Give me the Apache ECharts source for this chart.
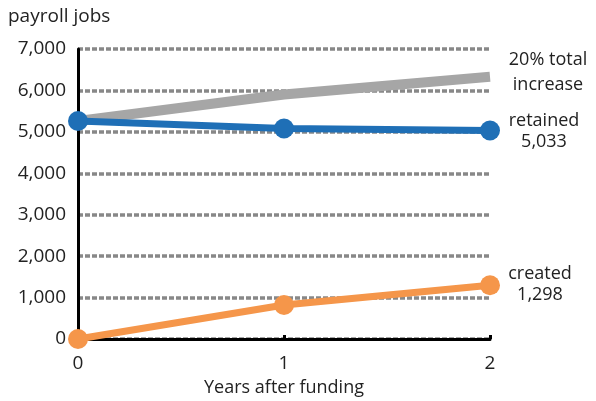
<!DOCTYPE html>
<html><head><meta charset="utf-8">
<script src="https://cdn.jsdelivr.net/npm/echarts@6/dist/echarts.min.js"></script>
<style>html,body{margin:0;padding:0;background:#fff}#c{width:596px;height:401px}</style>
</head><body><div id="c"></div>
<script>
var categories = ['0', '1', '2'];
var totalValues = [5262, 5900, 6331];
var retainedValues = [5262, 5080, 5033];
var createdValues = [0, 820, 1298];
var yTicks = [0, 1000, 2000, 3000, 4000, 5000, 6000, 7000];
var FONT = 'Open Sans';

var chart = echarts.init(document.getElementById('c'));
chart.setOption({
  animation: false,
  title: {text: 'payroll jobs', left: 3, top: 2, textStyle: {fontFamily: FONT, fontSize: 19, fontWeight: 'normal', color: '#222'}},
  grid: {left: 78, right: 106, top: 49, bottom: 62, containLabel: false, outerBoundsMode: 'none'},
  xAxis: {
    type: 'category', data: categories, boundaryGap: false,
    name: 'Years after funding', nameLocation: 'middle', nameGap: 40,
    nameTextStyle: {fontFamily: FONT, fontSize: 18, color: '#222'},
    axisLine: {lineStyle: {color: '#000', width: 3}},
    axisTick: {show: true, inside: true, length: 4, lineStyle: {color: '#000', width: 3}},
    axisLabel: {fontFamily: FONT, fontSize: 19, color: '#222', margin: 15},
    splitLine: {show: false}
  },
  yAxis: {
    type: 'value', min: 0, max: 7000, interval: 1000,
    axisLine: {show: true, lineStyle: {color: '#000', width: 3}},
    axisTick: {show: false},
    axisLabel: {fontFamily: FONT, fontSize: 19, color: '#222', margin: 12,
      formatter: function(v){ return yTicks.indexOf(v) >= 0 ? v.toLocaleString('en-US') : ''; }},
    splitLine: {lineStyle: {color: '#888', width: 3.5, type: [5, 2]}}
  },
  series: [
    {type: 'line', data: totalValues, symbol: 'none', z: 2,
     lineStyle: {color: '#a6a6a6', width: 10},
     endLabel: {show: true, formatter: '20% total\nincrease', fontFamily: FONT, fontSize: 18, color: '#222', lineHeight: 25, align: 'center', offset: [50, -4]}},
    {type: 'line', data: retainedValues, symbol: 'circle', symbolSize: 20, z: 3,
     lineStyle: {color: '#1f6fb6', width: 7}, itemStyle: {color: '#1f6fb6'},
     endLabel: {show: true, formatter: 'retained\n5,033', fontFamily: FONT, fontSize: 18, color: '#222', lineHeight: 21, align: 'center', offset: [46, 1]}},
    {type: 'line', data: createdValues, symbol: 'circle', symbolSize: 20, z: 4,
     lineStyle: {color: '#f5964a', width: 7}, itemStyle: {color: '#f5964a'},
     endLabel: {show: true, formatter: 'created\n1,298', fontFamily: FONT, fontSize: 18, color: '#222', lineHeight: 21, align: 'center', offset: [42, -1]}}
  ]
});
</script></body></html>
